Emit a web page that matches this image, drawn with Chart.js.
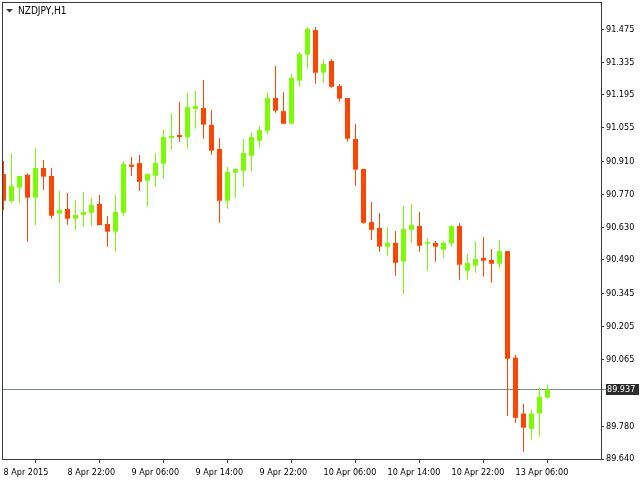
<!DOCTYPE html>
<html>
<head>
<meta charset="utf-8">
<title>NZDJPY,H1</title>
<script src="https://cdn.jsdelivr.net/npm/chart.js@4.4.1/dist/chart.umd.min.js"></script>
<style>
  html, body { margin: 0; padding: 0; background: #fff; }
  #wrap { width: 640px; height: 480px; }
</style>
</head>
<body>
<div id="wrap"><canvas id="chart" width="640" height="480"></canvas></div>
<script>
const symbolTitle = 'NZDJPY,H1';

// H1 bars, 8 Apr 2015 14:00 .. 13 Apr 2015 12:00
const opens = [
  90.857, 90.742, 90.799, 90.854, 90.756, 90.883, 90.849, 90.688, 90.708, 90.666,
  90.683, 90.692, 90.730, 90.644, 90.611, 90.692, 90.897, 90.904, 90.829, 90.850,
  90.901, 91.011, 91.024, 91.015, 91.135, 91.139, 91.067, 90.964, 90.743, 90.863,
  90.871, 90.935, 90.999, 91.042, 91.182, 91.126, 91.072, 91.256, 91.367, 91.472,
  91.290, 91.340, 91.233, 91.182, 91.007, 90.879, 90.652, 90.627, 90.547, 90.563,
  90.483, 90.619, 90.635, 90.560, 90.563, 90.534, 90.560, 90.635, 90.444, 90.466,
  90.499, 90.490, 90.474, 90.528, 90.073, 89.834, 89.769, 89.834, 89.902
];
const highs = [
  90.913, 90.946, 90.849, 90.859, 90.968, 90.917, 90.883, 90.785, 90.776, 90.746,
  90.780, 90.755, 90.768, 90.678, 90.768, 90.913, 90.930, 90.938, 90.860, 90.947,
  91.047, 91.118, 91.165, 91.203, 91.212, 91.259, 91.131, 91.011, 90.887, 90.879,
  91.007, 91.037, 91.062, 91.207, 91.319, 91.207, 91.284, 91.378, 91.485, 91.485,
  91.348, 91.348, 91.242, 91.182, 91.071, 90.879, 90.738, 90.691, 90.631, 90.614,
  90.721, 90.729, 90.695, 90.584, 90.571, 90.571, 90.639, 90.648, 90.516, 90.571,
  90.588, 90.537, 90.575, 90.528, 90.084, 89.876, 89.851, 89.945, 89.957
];
const lows = [
  90.703, 90.732, 90.735, 90.568, 90.639, 90.789, 90.666, 90.393, 90.641, 90.619,
  90.632, 90.636, 90.639, 90.547, 90.525, 90.679, 90.849, 90.785, 90.718, 90.803,
  90.837, 90.961, 90.995, 90.965, 91.051, 91.008, 90.940, 90.649, 90.709, 90.756,
  90.803, 90.867, 90.970, 91.025, 91.119, 91.072, 91.072, 91.230, 91.307, 91.243,
  91.247, 91.226, 91.166, 90.995, 90.807, 90.645, 90.575, 90.525, 90.508, 90.423,
  90.346, 90.564, 90.525, 90.444, 90.483, 90.500, 90.547, 90.406, 90.406, 90.436,
  90.419, 90.393, 90.453, 89.825, 89.795, 89.671, 89.722, 89.735, 89.898
];
const closes = [
  90.743, 90.806, 90.849, 90.756, 90.883, 90.846, 90.679, 90.704, 90.666, 90.682,
  90.695, 90.725, 90.639, 90.611, 90.695, 90.900, 90.888, 90.824, 90.857, 90.904,
  91.015, 91.020, 91.015, 91.143, 91.148, 91.068, 90.957, 90.743, 90.866, 90.879,
  90.947, 91.015, 91.045, 91.182, 91.128, 91.072, 91.267, 91.370, 91.477, 91.290,
  91.327, 91.230, 91.179, 91.008, 90.876, 90.649, 90.619, 90.547, 90.563, 90.478,
  90.622, 90.639, 90.551, 90.567, 90.547, 90.563, 90.635, 90.470, 90.477, 90.494,
  90.487, 90.474, 90.528, 90.068, 89.816, 89.774, 89.834, 89.906, 89.937
];

const timeLabels = [
  '8 Apr 2015', '8 Apr 22:00', '9 Apr 06:00', '9 Apr 14:00', '9 Apr 22:00',
  '10 Apr 06:00', '10 Apr 14:00', '10 Apr 22:00', '13 Apr 06:00'
];
const timeLabelBars = [0, 8, 16, 24, 32, 40, 48, 56, 64];
const priceTicks = [
  91.475, 91.335, 91.195, 91.055, 90.910, 90.770, 90.630,
  90.490, 90.345, 90.205, 90.065, 89.780, 89.640
];
const priceMin = 89.640;
const priceMax = 91.592;

// look
const BULL = '#7cfc00';
const BEAR = '#ff4500';
const FRAME = '#3a3a3a';
const TEXT = '#000000';
const PRICE_LINE = '#778899';
const FONT = '"DejaVu Sans Condensed", "DejaVu Sans", sans-serif';

// plot box inside the 640x480 canvas
const W = 640, H = 480;
const PLOT = { left: 2, top: 2, right: 601, bottom: 459 };
const BAR_STEP = 8;       // px between bars
const FIRST_BAR_X = 3.5;  // centre of the first bar

const xMin = -(FIRST_BAR_X - PLOT.left) / BAR_STEP;
const xMax = xMin + (PLOT.right - PLOT.left) / BAR_STEP;

const barIdx = opens.map((o, i) => i);
const barColors = barIdx.map(i => closes[i] >= opens[i] ? BULL : BEAR);
const lastClose = closes[closes.length - 1];

const decor = {
  id: 'decor',
  beforeDatasetsDraw(chart) {
    const ctx = chart.ctx;
    const y = Math.round(chart.scales.y.getPixelForValue(lastClose)) + 0.5;
    ctx.save();
    ctx.strokeStyle = PRICE_LINE;
    ctx.lineWidth = 1;
    ctx.beginPath();
    ctx.moveTo(chart.chartArea.left, y);
    ctx.lineTo(chart.chartArea.right + 5, y);
    ctx.stroke();
    ctx.restore();
  },
  afterDraw(chart) {
    const ctx = chart.ctx;
    const a = chart.chartArea;
    ctx.save();

    // frame
    ctx.strokeStyle = FRAME;
    ctx.lineWidth = 1;
    ctx.strokeRect(a.left + 0.5, a.top + 0.5, a.right - a.left, a.bottom - a.top);

    // symbol caption with the little drop-down arrow
    ctx.fillStyle = '#333';
    ctx.beginPath();
    ctx.moveTo(6, 9);
    ctx.lineTo(13, 9);
    ctx.lineTo(9.5, 12.5);
    ctx.closePath();
    ctx.fill();
    ctx.fillStyle = TEXT;
    ctx.font = '10px ' + FONT;
    ctx.textBaseline = 'middle';
    ctx.textAlign = 'left';
    ctx.fillText(symbolTitle, 18, 11);

    // current price box on the axis
    const y = Math.round(chart.scales.y.getPixelForValue(lastClose));
    ctx.font = '9px ' + FONT;
    ctx.fillStyle = '#2b2b2b';
    ctx.fillRect(a.right + 5, y - 5, W - a.right - 6, 11);
    ctx.fillStyle = '#ffffff';
    ctx.fillText(lastClose.toFixed(3), a.right + 6, y + 0.5);

    ctx.restore();
  }
};

new Chart(document.getElementById('chart'), {
  type: 'bar',
  data: {
    datasets: [
      {
        label: 'wick',
        data: barIdx.map(i => ({ x: i, y: [lows[i], highs[i]] })),
        backgroundColor: barColors,
        barThickness: 1,
        order: 2
      },
      {
        label: 'body',
        data: barIdx.map(i => ({ x: i, y: [Math.min(opens[i], closes[i]), Math.max(opens[i], closes[i])] })),
        backgroundColor: barColors,
        barThickness: 5,
        minBarLength: 1,
        order: 1
      }
    ]
  },
  options: {
    responsive: false,
    animation: false,
    devicePixelRatio: 1,
    datasets: { bar: { borderWidth: 0, inflateAmount: 0, grouped: false } },
    layout: { padding: { left: PLOT.left, top: PLOT.top, right: 0, bottom: 0 } },
    plugins: { legend: { display: false }, tooltip: { enabled: false } },
    scales: {
      x: {
        type: 'linear',
        min: xMin,
        max: xMax,
        offset: false,
        afterBuildTicks: s => { s.ticks = timeLabelBars.map(v => ({ value: v })); },
        afterFit: s => { s.height = H - PLOT.bottom; s.paddingLeft = 0; s.paddingRight = 0; },
        ticks: {
          autoSkip: false,
          maxRotation: 0,
          align: 'start',
          padding: 4,
          color: TEXT,
          font: { family: FONT, size: 9 },
          callback: (v, i) => timeLabels[i]
        },
        grid: { drawOnChartArea: false, drawTicks: true, tickLength: 4, color: FRAME },
        border: { display: false }
      },
      y: {
        type: 'linear',
        position: 'right',
        min: priceMin,
        max: priceMax,
        afterBuildTicks: s => { s.ticks = priceTicks.map(v => ({ value: v })); },
        afterFit: s => { s.width = W - PLOT.right; s.paddingTop = 0; s.paddingBottom = 0; },
        ticks: {
          autoSkip: false,
          padding: 2,
          color: TEXT,
          font: { family: FONT, size: 9 },
          callback: v => v.toFixed(3)
        },
        grid: { drawOnChartArea: false, drawTicks: true, tickLength: 3, color: FRAME },
        border: { display: false }
      }
    }
  },
  plugins: [decor]
});
</script>
</body>
</html>
